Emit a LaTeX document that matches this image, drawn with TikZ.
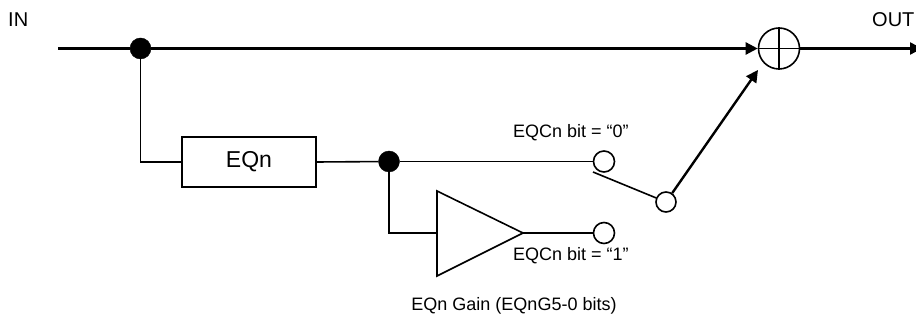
\documentclass[tikz,border=0pt]{standalone}
\usepackage{fontspec}
\setmainfont{Liberation Sans}
\usetikzlibrary{arrows.meta}
\tikzset{
  x=1pt,y=-1pt,
  thin line/.style={line width=1.6pt,line join=miter},
  thick line/.style={line width=2.4pt},
  flow/.style={thick line,-{Triangle[length=12pt,width=12pt]}},
  dot/.style={circle,fill=black,draw=black,inner sep=0pt,minimum width=21pt,minimum height=20pt},
  port/.style={circle,draw=black,line width=1.6pt,fill=white,inner sep=0pt,minimum size=21pt},
  lbl/.style={inner sep=0pt,font=\fontsize{18pt}{20pt}\selectfont},
  edgelbl/.style={inner sep=0pt,font=\fontsize{20pt}{22pt}\selectfont},
}
\begin{document}
\begin{tikzpicture}
\useasboundingbox (0,0) rectangle (916,320);
\clip (0,0) rectangle (916,320);
\coordinate (start) at (58,48.5);
\coordinate (end) at (922,48.5);
\node[dot] (d1) at (140.5,48.5) {};
\node[circle,draw=black,line width=1.6pt,fill=white,inner sep=0pt,minimum size=41pt] (sum) at (779,48.5) {};
\node[draw=black,line width=1.6pt,minimum width=134pt,minimum height=50pt,inner sep=0pt,font=\fontsize{23pt}{25pt}\selectfont] (eq) at (249,162) {EQn};
\node[dot] (d2) at (389,161.5) {};
\node[port] (p0) at (604,161.5) {};
\node[port] (p1) at (604,233) {};
\node[port,minimum size=20pt] (pc) at (666,202) {};
\coordinate (t1) at (437,191);
\coordinate (t2) at (437,276);
\coordinate (t3) at (523,233);
\coordinate (tin) at (437,233);
\coordinate (sw) at (593,172);
\coordinate (aend) at (758,70);
\draw[thick line] (start) -- (d1);
\draw[flow] (d1) -- (sum.west);
\draw[flow] (sum.east) -- (end);
\draw[line width=1.6pt] (sum.north) -- (sum.south) (sum.west) -- (sum.east);
\draw[thin line] (d1.south) |- (eq.west);
\draw[thin line] (eq.east) -- (d2);
\draw[thin line] (d2) -- (p0);
\draw[thin line] (d2.south) |- (tin);
\draw[thin line] (t1) -- (t2) -- (t3) -- cycle;
\draw[thin line] (t3) -- (p1);
\draw[thin line] (sw) -- (pc);
\draw[flow] (pc) -- (aend);
\node[edgelbl,anchor=west] at (8,20) {IN};
\node[edgelbl,anchor=west] at (872,20) {OUT};
\node[lbl,anchor=west] (l0) at (513,133) {EQCn bit = “0”};
\node[lbl,anchor=west] (l1) at (513,255.5) {EQCn bit = “1”};
\node[lbl,anchor=center] (lg) at (514,306) {EQn Gain (EQnG5-0 bits)};
\end{tikzpicture}
\end{document}
